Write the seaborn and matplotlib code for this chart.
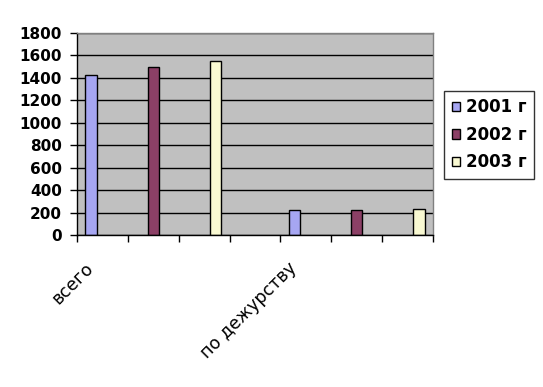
import numpy as np
import pandas as pd
import matplotlib
matplotlib.use("Agg")
import matplotlib.pyplot as plt
import matplotlib.transforms as mtransforms
import seaborn as sns

categories = ["всего", "c1", "c2", "c3", "по дежурству", "c5", "c6"]
tick_labels = ["всего", "", "", "", "по дежурству", "", ""]
series = ["2001 г", "2002 г", "2003 г"]
v2001 = [1430, np.nan, np.nan, np.nan, 220, np.nan, np.nan]
v2002 = [np.nan, 1500, np.nan, np.nan, np.nan, 220, np.nan]
v2003 = [np.nan, np.nan, 1550, np.nan, np.nan, np.nan, 230]
colors = ["#9999FF", "#993366", "#FFFFCC"]
yticks = [0, 200, 400, 600, 800, 1000, 1200, 1400, 1600, 1800]

rows = []
for s, vals in zip(series, [v2001, v2002, v2003]):
    for c, v in zip(categories, vals):
        rows.append({"cat": c, "series": s, "value": v})
df = pd.DataFrame(rows)

sns.set_theme(style="white")
plt.rcParams["font.family"] = ["DejaVu Sans"]
plt.rcParams["text.color"] = "black"
plt.rcParams["xtick.color"] = "black"
plt.rcParams["ytick.color"] = "black"

fig = plt.figure(figsize=(5.43, 3.87), dpi=100)
ax = fig.add_axes([77/543, 1-235/387, (433-77)/543, (235-33)/387])

sns.barplot(data=df, x="cat", y="value", hue="series", order=categories,
            hue_order=series, palette=colors, width=0.68, dodge=True,
            edgecolor="black", linewidth=1, ax=ax, legend=True)

ax.set_facecolor("#C0C0C0")
ax.set_xlim(-0.5, 6.5)
ax.set_ylim(0, 1800)
ax.set_yticks(yticks)
ax.set_yticklabels([str(t) for t in yticks], fontsize=11, fontweight="bold",
                   color="black")
ax.yaxis.grid(True, color="black", linewidth=1)
ax.set_axisbelow(True)
ax.set_xlabel("")
ax.set_ylabel("")

ax.set_xticks(range(len(categories)))
ax.set_xticklabels(tick_labels, rotation=45, ha="right", va="top",
                   rotation_mode="anchor", fontsize=12.5, color="black")
ax.tick_params(axis="x", which="major", length=0, pad=0)
off = mtransforms.ScaledTranslation(-18/100, -24/100, fig.dpi_scale_trans)
for lab in ax.get_xticklabels():
    lab.set_transform(lab.get_transform() + off)
ax.set_xticks(np.arange(-0.5, 7, 1), minor=True)
ax.tick_params(axis="x", which="minor", length=5, width=1, color="black",
               direction="out", bottom=True)
ax.tick_params(axis="y", length=5, width=1, color="black", direction="out",
               left=True, pad=6)

for side in ["top", "right"]:
    ax.spines[side].set_color("#808080")
    ax.spines[side].set_linewidth(1)
for side in ["left", "bottom"]:
    ax.spines[side].set_color("black")
    ax.spines[side].set_linewidth(1)

leg = ax.legend(loc="upper left", bbox_to_anchor=(444/543, 1-91/387),
                bbox_transform=fig.transFigure, frameon=True, fancybox=False,
                prop={"weight": "bold", "size": 12}, handlelength=0.48,
                handleheight=0.48, handletextpad=0.36, labelspacing=0.56,
                borderpad=0.45, borderaxespad=0, edgecolor="black")
leg.get_frame().set_linewidth(1)
for t in leg.get_texts():
    t.set_color("black")

fig.savefig("out.png", dpi=100, facecolor="white")
